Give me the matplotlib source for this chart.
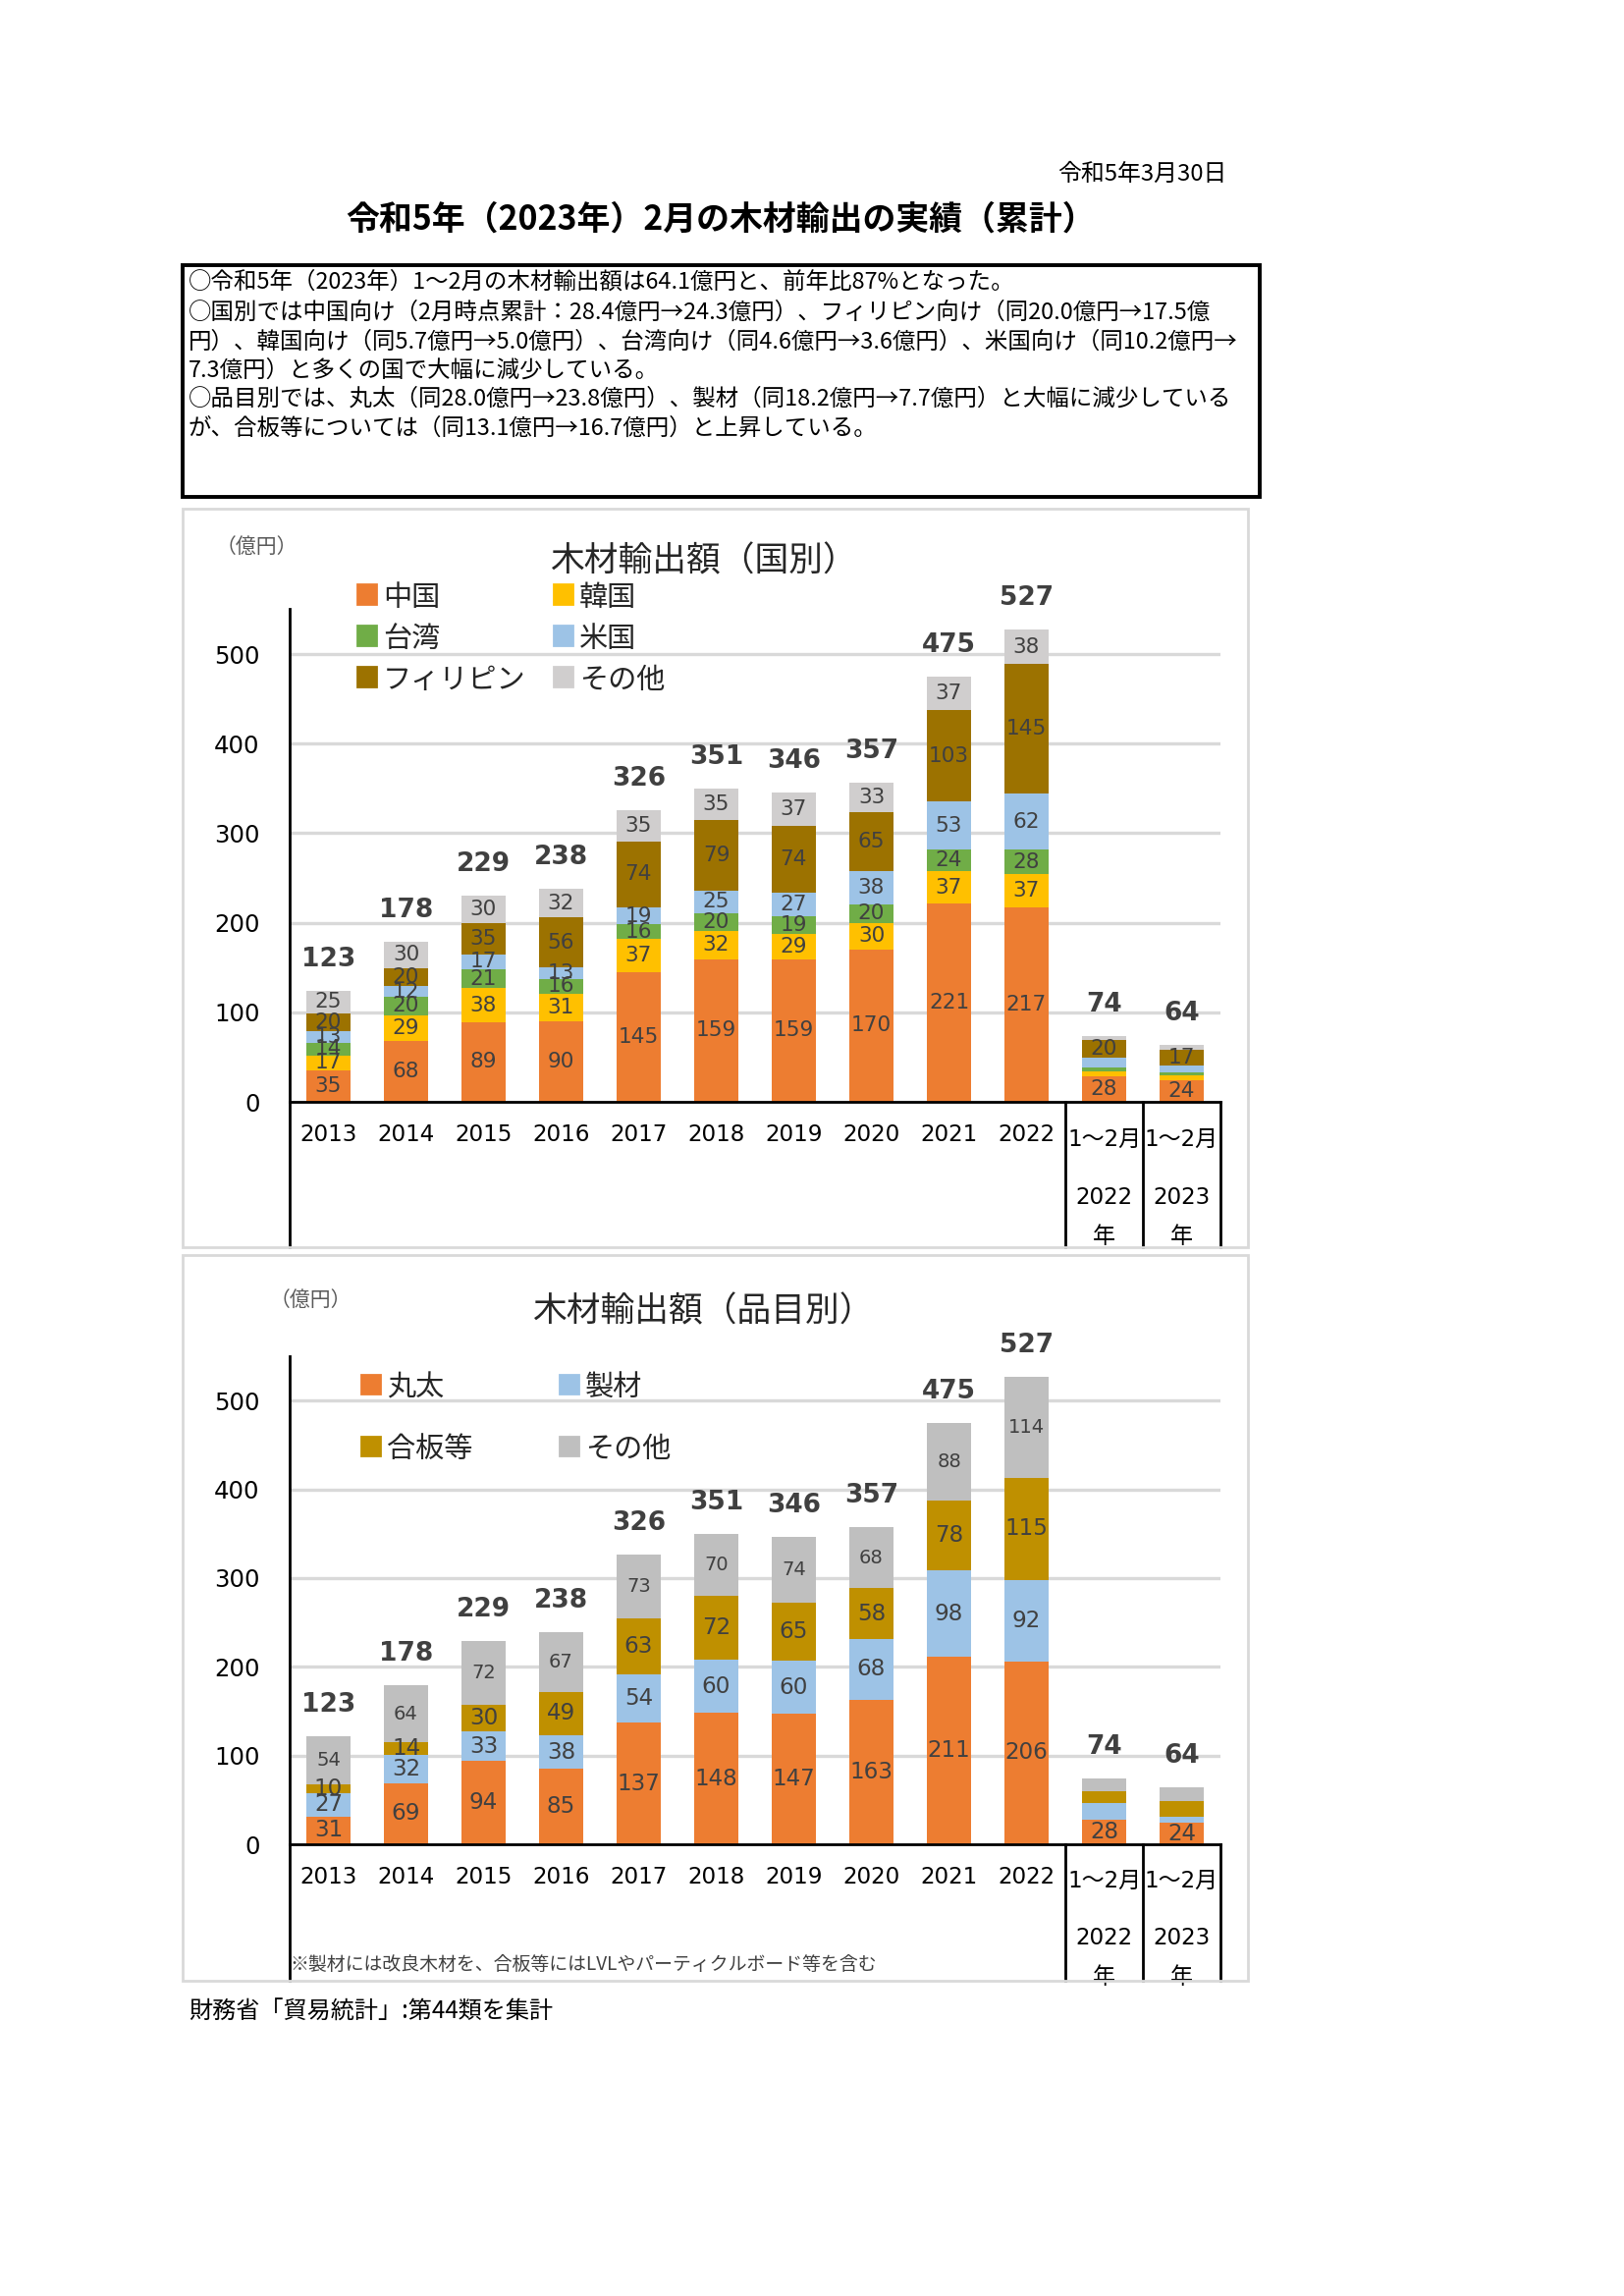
import numpy as np
import matplotlib
matplotlib.use('Agg')
import matplotlib.pyplot as plt
from matplotlib.patches import Rectangle
from matplotlib.transforms import blended_transform_factory

W, H = 1654, 2338
JP = ['Noto Sans CJK JP', 'DejaVu Sans']
NUM = ['DejaVu Sans', 'Noto Sans CJK JP']
plt.rcParams['font.family'] = NUM

# カテゴリ
years = ['2013', '2014', '2015', '2016', '2017', '2018', '2019', '2020',
         '2021', '2022', '1～2月', '1～2月']
years_sub = ['', '', '', '', '', '', '', '', '', '', '2022', '2023']

# 国別 (億円)
country_names = ['中国', '韓国', '台湾', '米国', 'フィリピン', 'その他']
china = [35, 68, 89, 90, 145, 159, 159, 170, 221, 217, 28.4, 24.3]
korea = [17, 29, 38, 31, 37, 32, 29, 30, 37, 37, 5.7, 5.0]
taiwan = [14, 20, 21, 16, 16, 20, 19, 20, 24, 28, 4.6, 3.6]
usa = [13, 12, 17, 13, 19, 25, 27, 38, 53, 62, 10.2, 7.3]
philippines = [20, 20, 35, 56, 74, 79, 74, 65, 103, 145, 20.0, 17.45]
other_country = [25, 30, 30, 32, 35, 35, 37, 33, 37, 38, 4.8, 6.4]
country_totals = [123, 178, 229, 238, 326, 351, 346, 357, 475, 527, 74, 64]

# 品目別 (億円)
item_names = ['丸太', '製材', '合板等', 'その他']
logs = [31, 69, 94, 85, 137, 148, 147, 163, 211, 206, 28.0, 23.8]
lumber = [27, 32, 33, 38, 54, 60, 60, 68, 98, 92, 18.2, 7.7]
plywood = [10, 14, 30, 49, 63, 72, 65, 58, 78, 115, 13.1, 16.7]
other_item = [54, 64, 72, 67, 73, 70, 74, 68, 88, 114, 14.4, 15.9]
item_totals = [123, 178, 229, 238, 326, 351, 346, 357, 475, 527, 74, 64]

box_lines = [
    '○令和5年（2023年）1～2月の木材輸出額は64.1億円と、前年比87%となった。',
    '○国別では中国向け（2月時点累計：28.4億円→24.3億円）、フィリピン向け（同20.0億円→17.5億',
    '円）、韓国向け（同5.7億円→5.0億円）、台湾向け（同4.6億円→3.6億円）、米国向け（同10.2億円→',
    '7.3億円）と多くの国で大幅に減少している。',
    '○品目別では、丸太（同28.0億円→23.8億円）、製材（同18.2億円→7.7億円）と大幅に減少している',
    'が、合板等については（同13.1億円→16.7億円）と上昇している。',
]

country_colors = ['#ED7D31', '#FFC000', '#70AD47', '#9DC3E6', '#9C7200', '#D0CECE']
item_colors = ['#ED7D31', '#9DC3E6', '#BF9000', '#BFBFBF']

fig = plt.figure(figsize=(W / 200, H / 200), dpi=200)


def fx(px):
    return px / W


def fy(py):
    return 1 - py / H


def ftext(x, y, s, **kw):
    # Noto CJK は中央揃えだと少し上に寄るので下げる
    if kw.get('family') == JP:
        y += 4
    return fig.text(fx(x), fy(y), s, **kw)


# ヘッダー
ftext(1250, 173, '令和5年3月30日', ha='right', va='center', fontsize=8.6, family=JP)
ftext(734, 219, '令和5年（2023年）2月の木材輸出の実績（累計）', ha='center', va='center',
      fontsize=12.2, fontweight='bold', family=JP)
fig.patches.append(Rectangle((fx(186), fy(506)), fx(1283) - fx(186), fy(270) - fy(506),
                             transform=fig.transFigure, fill=False, ec='black', lw=1.4))
for line, y in zip(box_lines, [283, 314, 344, 373, 402, 432]):
    ftext(192, y, line, ha='left', va='center', fontsize=8.45, family=JP)


def add_frame(top, bottom):
    r = Rectangle((fx(186), fy(bottom)), fx(1271) - fx(186), fy(top) - fy(bottom),
                  transform=fig.transFigure, fill=False, ec='#D9D9D9', lw=1.0)
    fig.patches.append(r)
    return r


def draw_chart(ax, series, colors, totals, ytd_show, label_sizes):
    x = np.arange(len(years))
    bottom = np.zeros(len(years))
    for vals, col, show, fs in zip(series, colors, ytd_show, label_sizes):
        vals = np.array(vals, dtype=float)
        ax.bar(x, vals, 0.57, bottom=bottom, color=col, zorder=2)
        for i, v in enumerate(vals):
            if i >= 10 and not show:
                continue
            ax.text(i, bottom[i] + v / 2, f'{v:.0f}', ha='center', va='center',
                    fontsize=fs, color='#404040', zorder=3)
        bottom += vals
    for i, t in enumerate(totals):
        ax.annotate(str(t), (i, bottom[i]), xytext=(0, 11.5), textcoords='offset points',
                    ha='center', va='center', fontsize=9.5, fontweight='bold', color='#404040')


def setup_axes(ax, frame, frame_bottom, rows):
    ax.set_xlim(-0.5, 11.5)
    ax.set_ylim(0, 550)
    ax.set_yticks(range(0, 501, 100))
    ax.yaxis.grid(True, color='#D9D9D9', lw=1.2, zorder=0)
    ax.set_axisbelow(True)
    ax.tick_params(axis='y', length=0, pad=11, labelsize=8.8)
    ax.set_xticks([])
    for s in ['top', 'right', 'left']:
        ax.spines[s].set_visible(False)
    ax.spines['bottom'].set_color('black')
    ax.spines['bottom'].set_linewidth(1.0)
    tr = blended_transform_factory(ax.transData, fig.transFigure)
    pos = ax.get_position()
    ax.plot([-0.5, -0.5], [fy(frame_bottom), pos.y1], transform=tr, color='black',
            lw=1.0, clip_on=False)
    for xv in [9.5, 10.5, 11.5]:
        ax.plot([xv, xv], [fy(frame_bottom), pos.y0], transform=tr, color='black',
                lw=1.0, clip_on=False)
    y_year, y_ytd, y_sub, y_nen = rows
    for i, (lab, sub) in enumerate(zip(years, years_sub)):
        if sub == '':
            ax.text(i, fy(y_year), lab, transform=tr, ha='center', va='center', fontsize=8.3)
        else:
            ax.text(i, fy(y_ytd), lab, transform=tr, ha='center', va='center', fontsize=8.3)
            ax.text(i, fy(y_sub), sub, transform=tr, ha='center', va='center', fontsize=8.3)
            t = ax.text(i, fy(y_nen + 3), '年', transform=tr, ha='center', va='center',
                        fontsize=8.3, family=JP)
            t.set_clip_path(frame)


def legend(items, colors, cols_x, rows_y, size):
    k = 0
    for y in rows_y:
        for x in cols_x:
            if k >= len(items):
                break
            fig.patches.append(Rectangle((fx(x - 9.5), fy(y + 9.5)), fx(19), 19 / H,
                                         transform=fig.transFigure, color=colors[k]))
            ftext(x + 17, y, items[k], ha='left', va='center', fontsize=size,
                  family=JP, color='#262626')
            k += 1


# 国別グラフ
frame1 = add_frame(518, 1270)
ax1 = fig.add_axes([fx(295), fy(1122), fx(1243) - fx(295), 501.6 / H])
setup_axes(ax1, frame1, 1270, (1156, 1160, 1219, 1257))
draw_chart(ax1, [china, korea, taiwan, usa, philippines, other_country], country_colors,
           country_totals, [True, False, False, False, True, False], [7.8] * 6)
ftext(717, 568, '木材輸出額（国別）', ha='center', va='center', fontsize=12.5,
      family=JP, color='#262626')
ftext(261, 553, '（億円）', ha='center', va='center', fontsize=7.5, family=JP, color='#595959')
legend(country_names, country_colors, [373, 573], [605, 647, 689], 10.5)

# 品目別グラフ
frame2 = add_frame(1278, 2017)
ax2 = fig.add_axes([fx(295), fy(1878), fx(1243) - fx(295), 497 / H])
setup_axes(ax2, frame2, 2017, (1911, 1915, 1973, 2011))
draw_chart(ax2, [logs, lumber, plywood, other_item], item_colors, item_totals,
           [True, False, False, False], [8.3, 8.3, 8.3, 7.0])
ftext(717, 1332, '木材輸出額（品目別）', ha='center', va='center', fontsize=12.5,
      family=JP, color='#262626')
ftext(316, 1320, '（億円）', ha='center', va='center', fontsize=7.5, family=JP, color='#595959')
legend(item_names, item_colors, [377, 579], [1409, 1472], 10.5)

ftext(295, 1996, '※製材には改良木材を、合板等にはLVLやパーティクルボード等を含む', ha='left',
      va='center', fontsize=6.8, family=JP, color='#404040')
ftext(192, 2045, '財務省「貿易統計」:第44類を集計', ha='left', va='center', fontsize=8.7,
      family=JP)

fig.savefig('out.png', dpi=200)
